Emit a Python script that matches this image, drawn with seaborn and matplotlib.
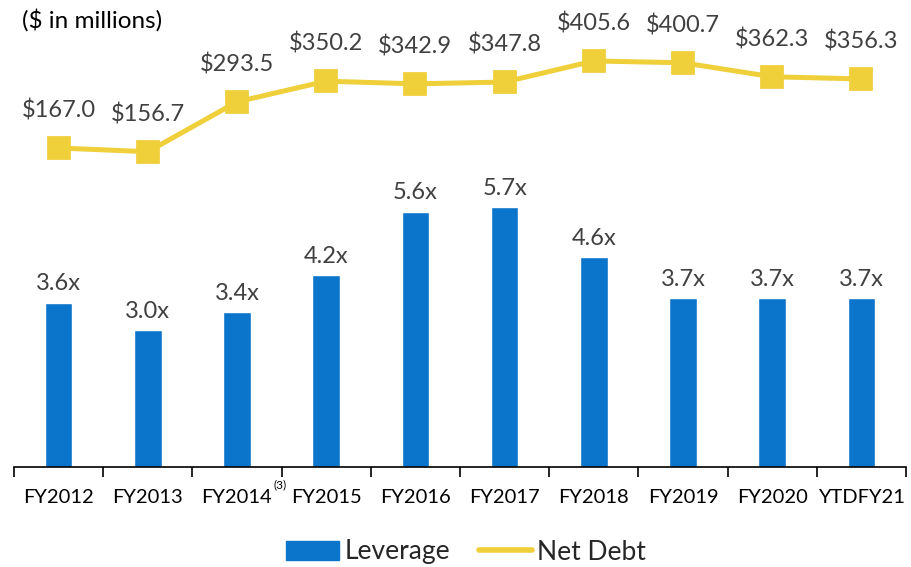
import matplotlib
matplotlib.use("Agg")
import matplotlib.pyplot as plt
import seaborn as sns
from matplotlib.patches import Patch
from matplotlib.lines import Line2D
from matplotlib.ticker import FixedLocator

years = ["FY2012", "FY2013", "FY2014", "FY2015", "FY2016",
         "FY2017", "FY2018", "FY2019", "FY2020", "YTDFY21"]
footnote_year = "FY2014"
footnote_mark = "(3)"
leverage = [3.6, 3.0, 3.4, 4.2, 5.6, 5.7, 4.6, 3.7, 3.7, 3.7]
net_debt = [167.0, 156.7, 293.5, 350.2, 342.9, 347.8, 405.6, 400.7, 362.3, 356.3]

blue = "#0B74CB"
yellow = "#EFCF3A"
grey = "#404040"

sns.set_style("white")
plt.rcParams["font.family"] = ["Lato", "DejaVu Sans"]

fig = plt.figure(figsize=(9.12, 5.67), dpi=100)
ax = fig.add_axes([14 / 912, 100 / 567, 892 / 912, 447 / 567])

sns.barplot(x=years, y=leverage, color=blue, width=0.31, saturation=1, ax=ax)
ax.set_ylim(0, 9.8)
for i, v in enumerate(leverage):
    ax.annotate(f"{v:.1f}x", (i, v), xytext=(0, 6), textcoords="offset points",
                ha="center", va="bottom", fontsize=17, color=grey)

ax2 = ax.twinx()
sns.pointplot(x=years, y=net_debt, color=yellow, markers="s", markersize=14,
              linewidth=3.6, ax=ax2)
ax2.set_ylim(-708, 518)
for i, v in enumerate(net_debt):
    ax2.annotate(f"${v:.1f}", (i, v), xytext=(0, 19), textcoords="offset points",
                 ha="center", va="bottom", fontsize=17, color=grey)

for a in (ax, ax2):
    for s in a.spines.values():
        s.set_visible(False)
    a.set_yticks([])
    a.set_ylabel("")
ax.spines["bottom"].set_visible(True)
ax.spines["bottom"].set_color("black")
ax.spines["bottom"].set_linewidth(1.2)

ax.set_xlim(-0.5, len(years) - 0.5)
ax.set_xticks(range(len(years)))
ax.set_xticklabels(years, fontsize=14.5, color="black")
ax.tick_params(axis="x", which="major", length=0, pad=16, labelbottom=True)
ax.xaxis.set_minor_locator(FixedLocator([i - 0.5 for i in range(len(years) + 1)]))
ax.tick_params(axis="x", which="minor", length=7, width=1.2, color="black",
               direction="out", bottom=True)

# superscript footnote on FY2014 label
ax.annotate(footnote_mark, (years.index(footnote_year), 0), xytext=(31, -13),
            textcoords="offset points", ha="center", va="center",
            fontsize=8.5, color="black", annotation_clip=False)

fig.text(22 / 912, 1 - 20 / 567, "($ in millions)", fontsize=17.5, color="black",
         ha="left", va="center")

handles = [Patch(facecolor=blue, edgecolor=blue),
           Line2D([0], [0], color=yellow, linewidth=4, solid_capstyle="round")]
fig.legend(handles, ["Leverage", "Net Debt"], loc="center",
           bbox_to_anchor=(0.5 + 10 / 912, 1 - 552 / 567),
           ncol=2, frameon=False, fontsize=19, handlelength=2.0, handleheight=0.7,
           columnspacing=1.1, handletextpad=0.2)

fig.savefig("out.png", dpi=100)
